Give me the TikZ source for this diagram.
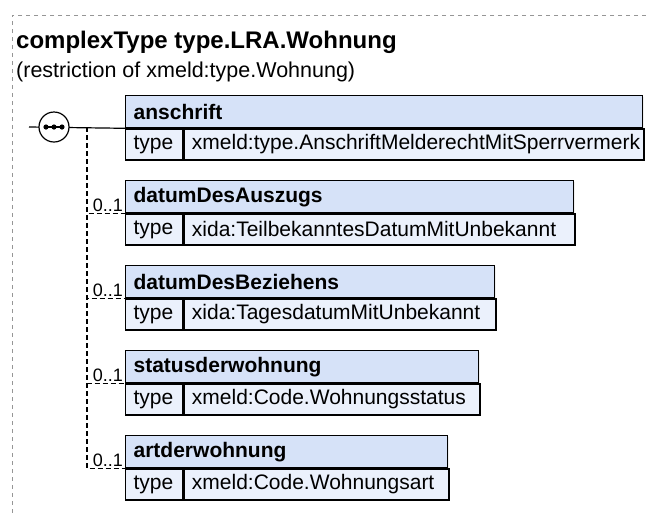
\documentclass[tikz,border=0pt]{standalone}
\usepackage{fontspec}
\setmainfont{Liberation Sans}
\usetikzlibrary{positioning,shadows}

\definecolor{headblue}{RGB}{214,226,248}
\definecolor{typeblue}{RGB}{235,241,252}
\definecolor{framegray}{RGB}{150,150,150}

\tikzset{
  elhead/.style={draw, line width=1.3pt, fill=headblue, anchor=north west,
    minimum height=32, inner xsep=8pt, inner ysep=0pt, align=left,
    drop shadow={shadow xshift=1.5pt, shadow yshift=-1.5pt, fill=black!12},
    font=\fontsize{21}{23}\selectfont\bfseries},
  elcell/.style={draw, line width=1.3pt, fill=typeblue, anchor=north west,
    minimum height=31, inner xsep=8pt, inner ysep=0pt, align=left,
    drop shadow={shadow xshift=1.5pt, shadow yshift=-1.5pt, fill=black!12},
    font=\fontsize{21}{23}\selectfont},
  optline/.style={line width=1.2pt, dash pattern=on 5pt off 3pt},
  occurs/.style={anchor=south east, inner sep=1pt, font=\fontsize{18}{20}\selectfont}
}

\begin{document}
\begin{tikzpicture}[x=1pt, y=-1pt]
  \useasboundingbox (0,0) rectangle (646,515);
  % dashed frame
  \draw [framegray, line width=0.8pt, dash pattern=on 4pt off 4pt] (646,15) -- (12,15) -- (12,515);
  \node (title) [anchor=base west, inner sep=0pt, font=\fontsize{24}{26}\selectfont\bfseries] at (16,48) {complexType type.LRA.Wohnung};
  \node (sub) [anchor=base west, inner sep=0pt, font=\fontsize{21.5}{23}\selectfont] at (16,77) {(restriction of xmeld:type.Wohnung)};

  % elements
  \node (A) [elhead, text width=501] at (125,95) {anschrift};
  \node (At) [elcell, text width=41] at (A.south west) {type};
  \node (Av) [elcell, text width=444] at (At.north east) {xmeld:type.AnschriftMelderechtMitSperrvermerk};

  \node (B) [elhead, text width=432] at (125,180) {datumDesAuszugs};
  \node (Bt) [elcell, text width=41] at (B.south west) {type};
  \node (Bv) [elcell, text width=375] at (Bt.north east) {xida:TeilbekanntesDatumMitUnbekannt};

  \node (C) [elhead, text width=353] at (125,265) {datumDesBeziehens};
  \node (Ct) [elcell, text width=41] at (C.south west) {type};
  \node (Cv) [elcell, text width=296] at (Ct.north east) {xida:TagesdatumMitUnbekannt};

  \node (D) [elhead, text width=337] at (125,350) {statusderwohnung};
  \node (Dt) [elcell, text width=41] at (D.south west) {type};
  \node (Dv) [elcell, text width=280] at (Dt.north east) {xmeld:Code.Wohnungsstatus};

  \node (E) [elhead, text width=306] at (125,435) {artderwohnung};
  \node (Et) [elcell, text width=41] at (E.south west) {type};
  \node (Ev) [elcell, text width=249] at (Et.north east) {xmeld:Code.Wohnungsart};

  % sequence and connectors
  \coordinate (in) at (29,127);
  \coordinate (fork) at (87,127);
  \draw [line width=1.2pt] (in) -- (At.north west);
  \draw [optline] (fork) |- (Bt.north west);
  \draw [optline] (fork) |- (Ct.north west);
  \draw [optline] (fork) |- (Dt.north west);
  \draw [optline] (fork) |- (Et.north west);
  \node (seq) [draw, circle, line width=1.2pt, fill=white, minimum size=30, inner sep=0pt] at (54,127) {};
  \draw [line width=1.2pt] ([xshift=-8]seq.center) -- ([xshift=8]seq.center);
  \fill ([xshift=-8]seq.center) circle (2.6) (seq.center) circle (2.6) ([xshift=8]seq.center) circle (2.6);

  \node (Bm) [occurs] at ([xshift=-1]Bt.north west) {0..1};
  \node (Cm) [occurs] at ([xshift=-1]Ct.north west) {0..1};
  \node (Dm) [occurs] at ([xshift=-1]Dt.north west) {0..1};
  \node (Em) [occurs] at ([xshift=-1]Et.north west) {0..1};
\end{tikzpicture}
\end{document}
